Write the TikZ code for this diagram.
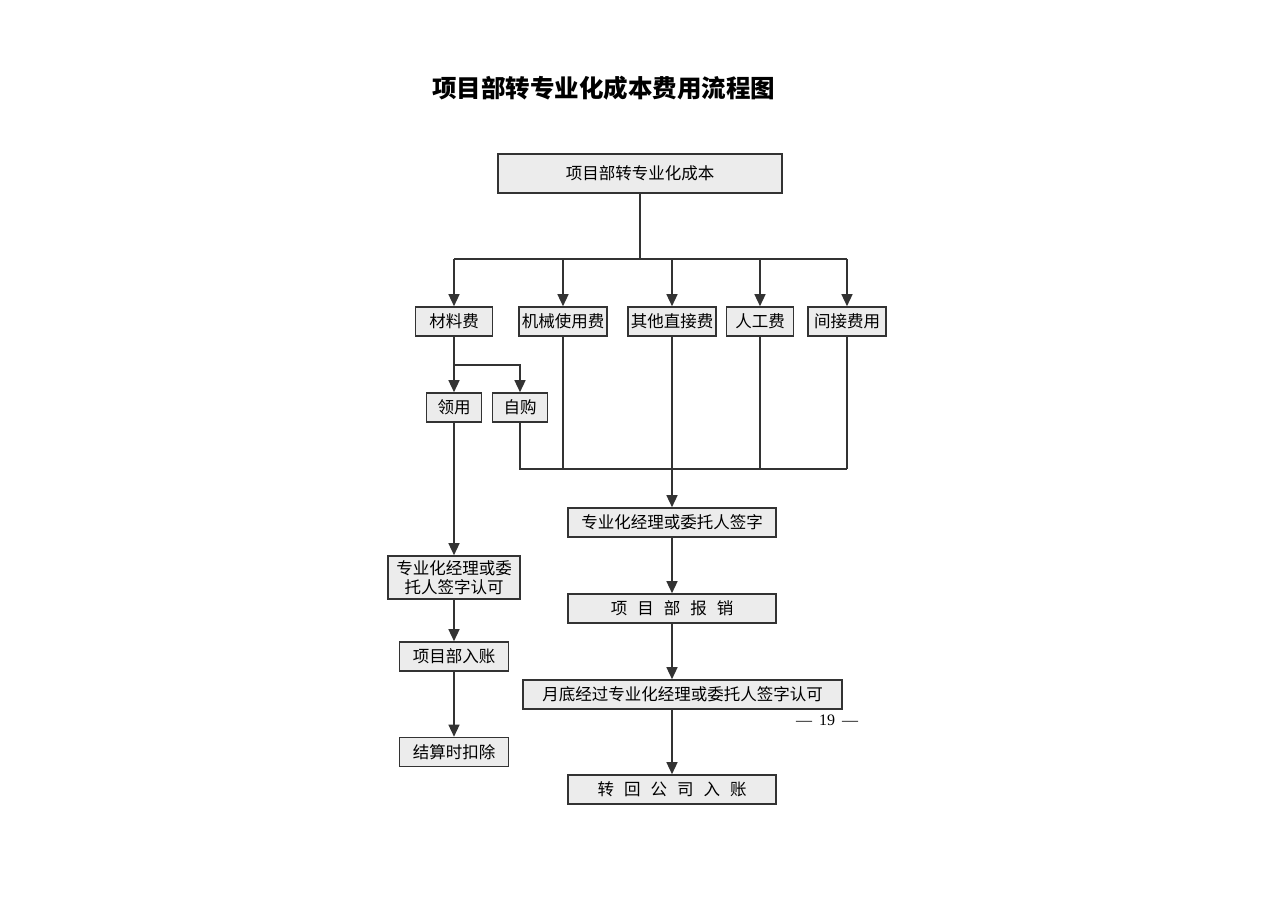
\documentclass[tikz,border=0pt]{standalone}
\usepackage{fontspec}
\newfontfamily\cjk{Noto Sans CJK SC}
\newfontfamily\numfont{Liberation Serif}
\usetikzlibrary{arrows.meta}
\tikzset{
  box/.style={draw=black!80, line width=1.6pt, fill=gray!15, minimum height=29pt, inner sep=0pt,
    font=\cjk\fontsize{16.5}{19}\selectfont, align=center},
  ln/.style={line width=1.4pt, draw=black!80},
  arr/.style={ln, -{Triangle[length=12pt,width=11pt]}}
}
\newcommand{\cgap}{\hspace{10pt}}
\begin{document}
\begin{tikzpicture}[x=1pt,y=-1pt]
\useasboundingbox (0,0) rectangle (1280,904);
% title
\node[font=\cjk\bfseries\fontsize{24.5}{28}\selectfont] (title) at (603.5,88) {项目部转专业化成本费用流程图};
% top
\node[box, minimum width=284pt, minimum height=39pt] (top) at (640,173.5) {项目部转专业化成本};
\coordinate (j) at (640,259);
% second row
\node[box, minimum width=77pt] (clf) at (454,321.5) {材料费};
\node[box, minimum width=88pt] (jx) at (563,321.5) {机械使用费};
\node[box, minimum width=88pt] (qt) at (672,321.5) {其他直接费};
\node[box, minimum width=67pt] (rg) at (760,321.5) {人工费};
\node[box, minimum width=78pt] (jj) at (847,321.5) {间接费用};
% material split
\coordinate (sp) at (454,365);
\node[box, minimum width=55pt] (ly) at (454,407.5) {领用};
\node[box, minimum width=55pt] (zg) at (520,407.5) {自购};
% bus
\coordinate (bus) at (847,469);
% right chain
\node[box, minimum width=208pt] (qz) at (672,522.5) {专业化经理或委托人签字};
\node[box, minimum width=208pt] (bx) at (672,608.5) {项\cgap 目\cgap 部\cgap 报\cgap 销};
\node[box, minimum width=319pt] (yd) at (682.5,694.5) {月底经过专业化经理或委托人签字认可};
\node[box, minimum width=208pt] (zh) at (672,789.5) {转\cgap 回\cgap 公\cgap 司\cgap 入\cgap 账};
% left chain
\node[box, minimum width=132pt, minimum height=43pt] (rk) at (454,577.5) {专业化经理或委\\托人签字认可};
\node[box, minimum width=109pt] (xm) at (454,656.5) {项目部入账};
\node[box, minimum width=109pt] (js) at (454,752) {结算时扣除};
% page number
\node[font=\numfont\fontsize{16}{18}\selectfont] (pg) at (827,720) {—\hspace{7pt}19\hspace{7pt}—};
% connectors
\draw[ln] (top.south) -- (j);
\draw[ln] (j -| clf.north) -- (j -| jj.north);
\draw[arr] (j -| clf.north) -- (clf.north);
\draw[arr] (j -| jx.north) -- (jx.north);
\draw[arr] (j -| qt.north) -- (qt.north);
\draw[arr] (j -| rg.north) -- (rg.north);
\draw[arr] (j -| jj.north) -- (jj.north);
\draw[arr] (clf.south) -- (ly.north);
\draw[arr] (sp) -| (zg.north);
\draw[ln] (zg.south) |- (bus);
\draw[ln] (jx.south) -- (jx.south |- bus);
\draw[ln] (rg.south) -- (rg.south |- bus);
\draw[ln] (jj.south) -- (bus);
\draw[arr] (qt.south) -- (qz.north);
\draw[arr] (qz.south) -- (bx.north);
\draw[arr] (bx.south) -- (bx.south |- yd.north);
\draw[arr] (bx.south |- yd.south) -- (zh.north);
\draw[arr] (ly.south) -- (rk.north);
\draw[arr] (rk.south) -- (xm.north);
\draw[arr] (xm.south) -- (js.north);
\end{tikzpicture}
\end{document}
